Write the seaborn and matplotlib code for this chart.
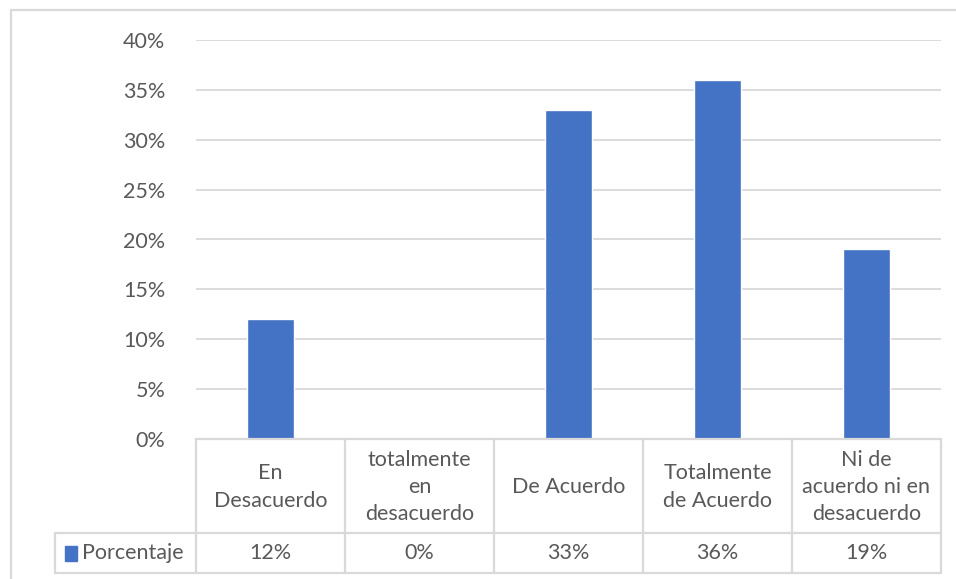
import matplotlib
matplotlib.use("Agg")
import matplotlib.pyplot as plt
from matplotlib.lines import Line2D
from matplotlib.patches import Rectangle
import seaborn as sns
import pandas as pd

categories = ["En\nDesacuerdo", "totalmente\nen\ndesacuerdo", "De Acuerdo",
              "Totalmente\nde Acuerdo", "Ni de\nacuerdo ni en\ndesacuerdo"]
values = [12, 0, 33, 36, 19]
value_labels = ["12%", "0%", "33%", "36%", "19%"]
series_name = "Porcentaje"
yticks = [0, 5, 10, 15, 20, 25, 30, 35, 40]
ytick_labels = ["0%", "5%", "10%", "15%", "20%", "25%", "30%", "35%", "40%"]

sns.set_theme(style="white")
plt.rcParams['font.family'] = ['Lato', 'DejaVu Sans']

W, H = 956, 579
fig = plt.figure(figsize=(W / 100, H / 100), dpi=100)

def fx(px):
    return px / W

def fy(py):
    return 1 - py / H

left, right, top, bottom = 196, 941, 40, 439
ax = fig.add_axes([fx(left), fy(bottom), fx(right) - fx(left), fy(top) - fy(bottom)])

df = pd.DataFrame({"cat": categories, "val": values})
bar_color = "#4472C4"
text_color = "#595959"
grid_color = "#D9D9D9"
fs = 15.5

sns.barplot(data=df, x="cat", y="val", color=bar_color, width=0.315,
            saturation=1, ax=ax, zorder=3)
ax.set_xlim(-0.5, len(categories) - 0.5)
ax.set_ylim(0, 40)
ax.set_yticks(yticks)
ax.set_yticklabels(ytick_labels, color=text_color, fontsize=fs)
ax.tick_params(axis="y", length=0, pad=22)
ax.set_xticks([])
ax.set_xlabel("")
ax.set_ylabel("")
for s in ax.spines.values():
    s.set_visible(False)
ax.yaxis.grid(True, color=grid_color, linewidth=1.3)
ax.set_axisbelow(True)

# data table
row1_top, row1_bot, row2_bot = 439, 533, 573
key_left = 55
cell_w = (right - left) / len(categories)
lines = []
lines.append(((left, right), (row1_top, row1_top)))
lines.append(((key_left, right), (row1_bot, row1_bot)))
lines.append(((key_left, right), (row2_bot, row2_bot)))
for i in range(len(categories) + 1):
    x = left + i * cell_w
    lines.append(((x, x), (row1_top, row2_bot)))
lines.append(((key_left, key_left), (row1_bot, row2_bot)))
for xs, ys in lines:
    fig.add_artist(Line2D([fx(xs[0]), fx(xs[1])], [fy(ys[0]), fy(ys[1])],
                          color=grid_color, linewidth=1.6, transform=fig.transFigure))

for i, (cat, vl) in enumerate(zip(categories, value_labels)):
    cx = left + (i + 0.5) * cell_w
    fig.text(fx(cx), fy((row1_top + row1_bot) / 2 + 1), cat, ha="center", va="center",
             color=text_color, fontsize=fs, linespacing=1.45, multialignment="center")
    fig.text(fx(cx), fy((row1_bot + row2_bot) / 2), vl, ha="center", va="center",
             color=text_color, fontsize=fs)

fig.add_artist(Rectangle((fx(65), fy(561)), fx(12), fy(546) - fy(561), color=bar_color,
                         transform=fig.transFigure))
fig.text(fx(82), fy((row1_bot + row2_bot) / 2), series_name, ha="left", va="center",
         color=text_color, fontsize=fs)

fig.add_artist(Line2D([fx(11), fx(11)], [fy(10), 0], color=grid_color, linewidth=1.6,
                      transform=fig.transFigure))
fig.add_artist(Line2D([fx(11), 1], [fy(10), fy(10)], color=grid_color, linewidth=1.6,
                      transform=fig.transFigure))

fig.savefig("out.png", dpi=100, facecolor="white")
